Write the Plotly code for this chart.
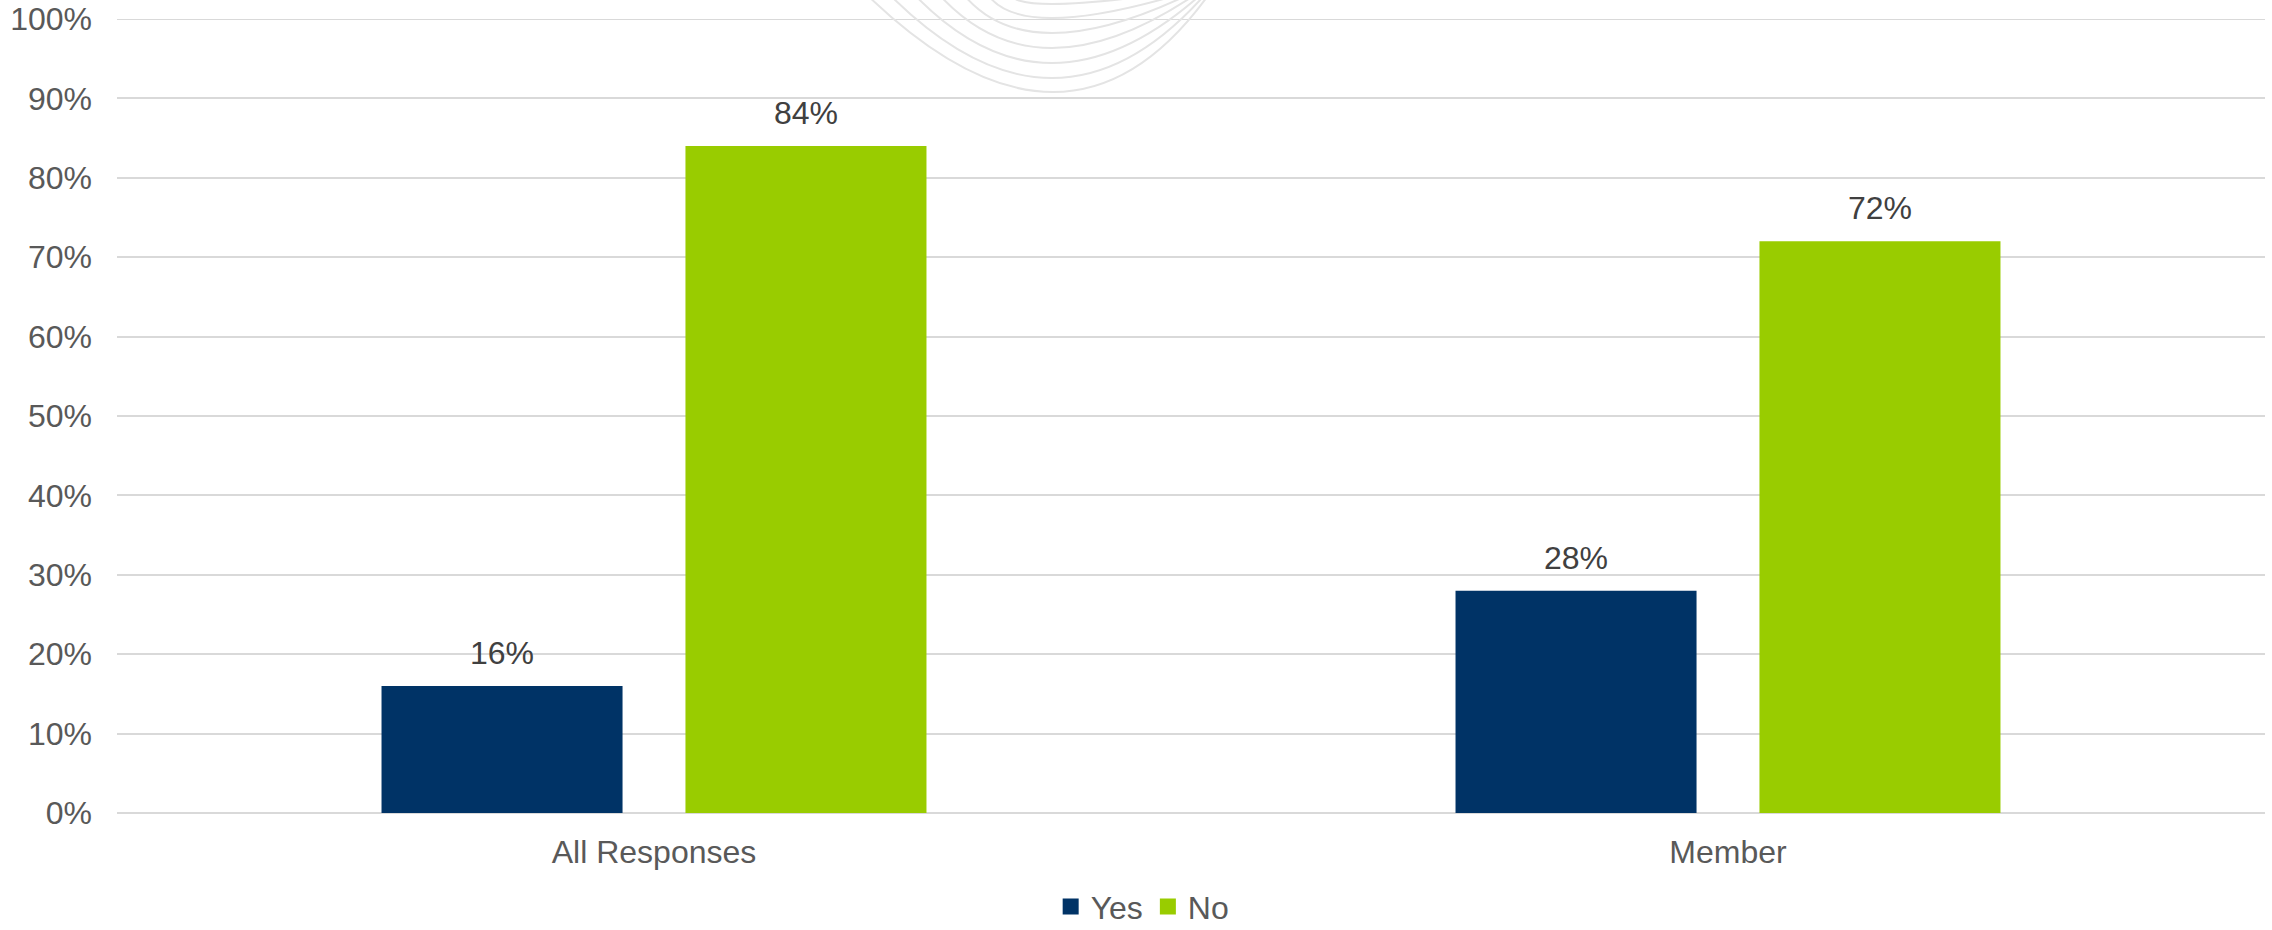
import plotly.graph_objects as go

categories = ["All Responses", "Member"]
series_names = ["Yes", "No"]
yes_values = [0.16, 0.28]
no_values = [0.84, 0.72]
colors = ["#003366", "#99CC00"]
y_ticks = [0, 0.1, 0.2, 0.3, 0.4, 0.5, 0.6, 0.7, 0.8, 0.9, 1.0]

W, H = 2272, 930
ML, MR, MT, MB = 117, 7, 19, 117
PW, PH = W - ML - MR, H - MT - MB
BARGAP, GROUPGAP = 0.434, 0.207
FONT = "Liberation Sans, Arial, sans-serif"
FS = 32
GRID = "#d9d9d9"

fig = go.Figure()
for name, vals, col in zip(series_names, [yes_values, no_values], colors):
    fig.add_trace(go.Bar(x=categories, y=vals, name=name, marker_color=col,
                         marker_line_width=0, showlegend=False))
    fig.add_trace(go.Scatter(x=[None], y=[None], mode="markers", name=name,
                             marker=dict(symbol="square", size=18, color=col)))

# data labels
slot = PW / len(categories) * (1 - BARGAP) / 2
for i, vals in enumerate([yes_values, no_values]):
    for c, v in zip(categories, vals):
        fig.add_annotation(x=c, y=v, text=f"{round(v*100)}%", showarrow=False,
                           xshift=(i - 0.5) * slot, yshift=33, yanchor="middle",
                           font=dict(family=FONT, size=FS, color="#404040"))

# top gridline (plotly drops gridlines at the range edge)
fig.add_shape(type="line", xref="paper", yref="y", x0=0, x1=1, y0=y_ticks[-1], y1=y_ticks[-1],
              line=dict(color=GRID, width=2), layer="below")

# faint watermark arcs (decoration)
arcs = [(862, 1212, 1053, 92), (885, 1209, 1052, 78), (910, 1206, 1052, 63),
        (935, 1202, 1052, 48), (960, 1198, 1052, 33), (985, 1194, 1052, 18),
        (1010, 1190, 1052, 4)]
def px(x):
    return (x - ML) / PW
def py(y):
    return (H - MB - y) / PH
for x0, x1, xb, yb in arcs:
    path = f"M {px(x0)},{py(-10)} Q {px(2*xb-(x0+x1)/2)},{py(2*yb+10)} {px(x1)},{py(-10)}"
    fig.add_shape(type="path", path=path, xref="paper", yref="paper",
                  line=dict(color="#e4e4e4", width=2), layer="below")

fig.update_layout(
    width=W, height=H,
    margin=dict(l=ML, r=MR, t=MT, b=MB, autoexpand=False),
    paper_bgcolor="white", plot_bgcolor="white",
    barmode="group", bargap=BARGAP, bargroupgap=GROUPGAP,
    font=dict(family=FONT, size=FS, color="#595959"),
    legend=dict(orientation="h", x=0.4775, xanchor="center", y=-0.118,
                yanchor="middle", font=dict(family=FONT, size=FS, color="#595959"),
                itemwidth=30, tracegroupgap=0),
)
fig.update_xaxes(showgrid=False, showline=False, ticks="", ticklabelstandoff=17,
                 automargin=False,
                 tickfont=dict(family=FONT, size=FS, color="#595959"))
fig.update_yaxes(range=[0, 1], tickvals=y_ticks, tickformat=".0%",
                 showgrid=True, gridcolor=GRID, gridwidth=2,
                 zeroline=True, zerolinecolor=GRID, zerolinewidth=2,
                 showline=False, ticks="", ticklabelstandoff=24, automargin=False,
                 tickfont=dict(family=FONT, size=FS, color="#595959"))

fig.write_html("out.html", config={"displayModeBar": False},
               post_script="document.body.style.margin='0';document.body.style.overflow='hidden';")
